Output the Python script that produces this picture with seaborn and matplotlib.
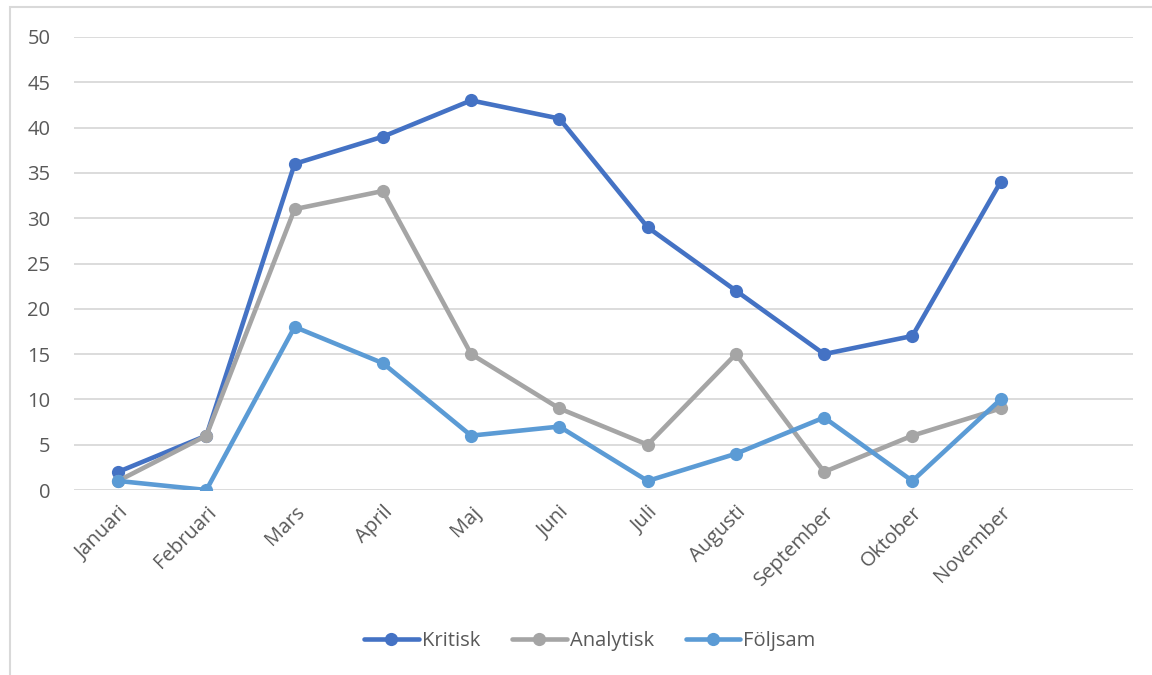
import matplotlib
matplotlib.use("Agg")
import matplotlib.pyplot as plt
import seaborn as sns
import pandas as pd
from matplotlib.patches import Rectangle
from matplotlib.lines import Line2D

months = ["Januari", "Februari", "Mars", "April", "Maj", "Juni", "Juli",
          "Augusti", "September", "Oktober", "November", ""]
kritisk = [2, 6, 36, 39, 43, 41, 29, 22, 15, 17, 34]
analytisk = [1, 6, 31, 33, 15, 9, 5, 15, 2, 6, 9]
foljsam = [1, 0, 18, 14, 6, 7, 1, 4, 8, 1, 10]
series_names = ["Kritisk", "Analytisk", "Följsam"]
colors = ["#4472C4", "#A5A5A5", "#5B9BD5"]
yticks = [0, 5, 10, 15, 20, 25, 30, 35, 40, 45, 50]

rows = []
for name, vals in zip(series_names, [kritisk, analytisk, foljsam]):
    for i, v in enumerate(vals):
        rows.append({"idx": i, "value": v, "serie": name})
df = pd.DataFrame(rows)

sns.set_theme(style="white")
plt.rcParams["font.family"] = ["Open Sans", "DejaVu Sans"]
text_color = "#595959"
fs = 14.5

fig = plt.figure(figsize=(11.52, 6.75), dpi=100)
ax = fig.add_axes([74/1152, 1-490/675, (1133-74)/1152, (490-37)/675])

# outer chart border
fig.patches.append(Rectangle((10/1152, -0.1), 1.2, 1 - 7/675 + 0.1,
                             transform=fig.transFigure, fill=False,
                             edgecolor="#D9D9D9", linewidth=1.5, zorder=0))

sns.lineplot(data=df, x="idx", y="value", hue="serie", hue_order=series_names,
             palette=colors, marker="o", markersize=9.5, linewidth=3.3,
             markeredgewidth=0, ax=ax, legend=False, zorder=3)

ax.set_xlim(-0.5, 11.5)
ax.set_ylim(0, 50)
ax.set_yticks(yticks)
ax.set_yticklabels([str(t) for t in yticks], color=text_color, fontsize=fs)
ax.set_xticks(range(len(months)))
ax.set_xticklabels(months, rotation=45, ha="right", rotation_mode="anchor",
                   color=text_color, fontsize=fs)
ax.tick_params(axis="x", length=0, pad=9)
ax.tick_params(axis="y", length=0, pad=17)
ax.yaxis.grid(True, color="#D9D9D9", linewidth=1.3)
ax.xaxis.grid(False)
for s in ax.spines.values():
    s.set_visible(False)
ax.set_xlabel("")
ax.set_ylabel("")

handles = [Line2D([0], [0], color=c, linewidth=3.3, marker="o", markersize=9.5,
                  markeredgewidth=0) for c in colors]
fig.legend(handles, series_names, loc="center", bbox_to_anchor=(590/1152, 1-641/675),
           ncol=3, frameon=False, fontsize=fs, labelcolor=text_color,
           handlelength=2.7, columnspacing=1.6, handletextpad=0.15)

fig.savefig("out.png", dpi=100)
